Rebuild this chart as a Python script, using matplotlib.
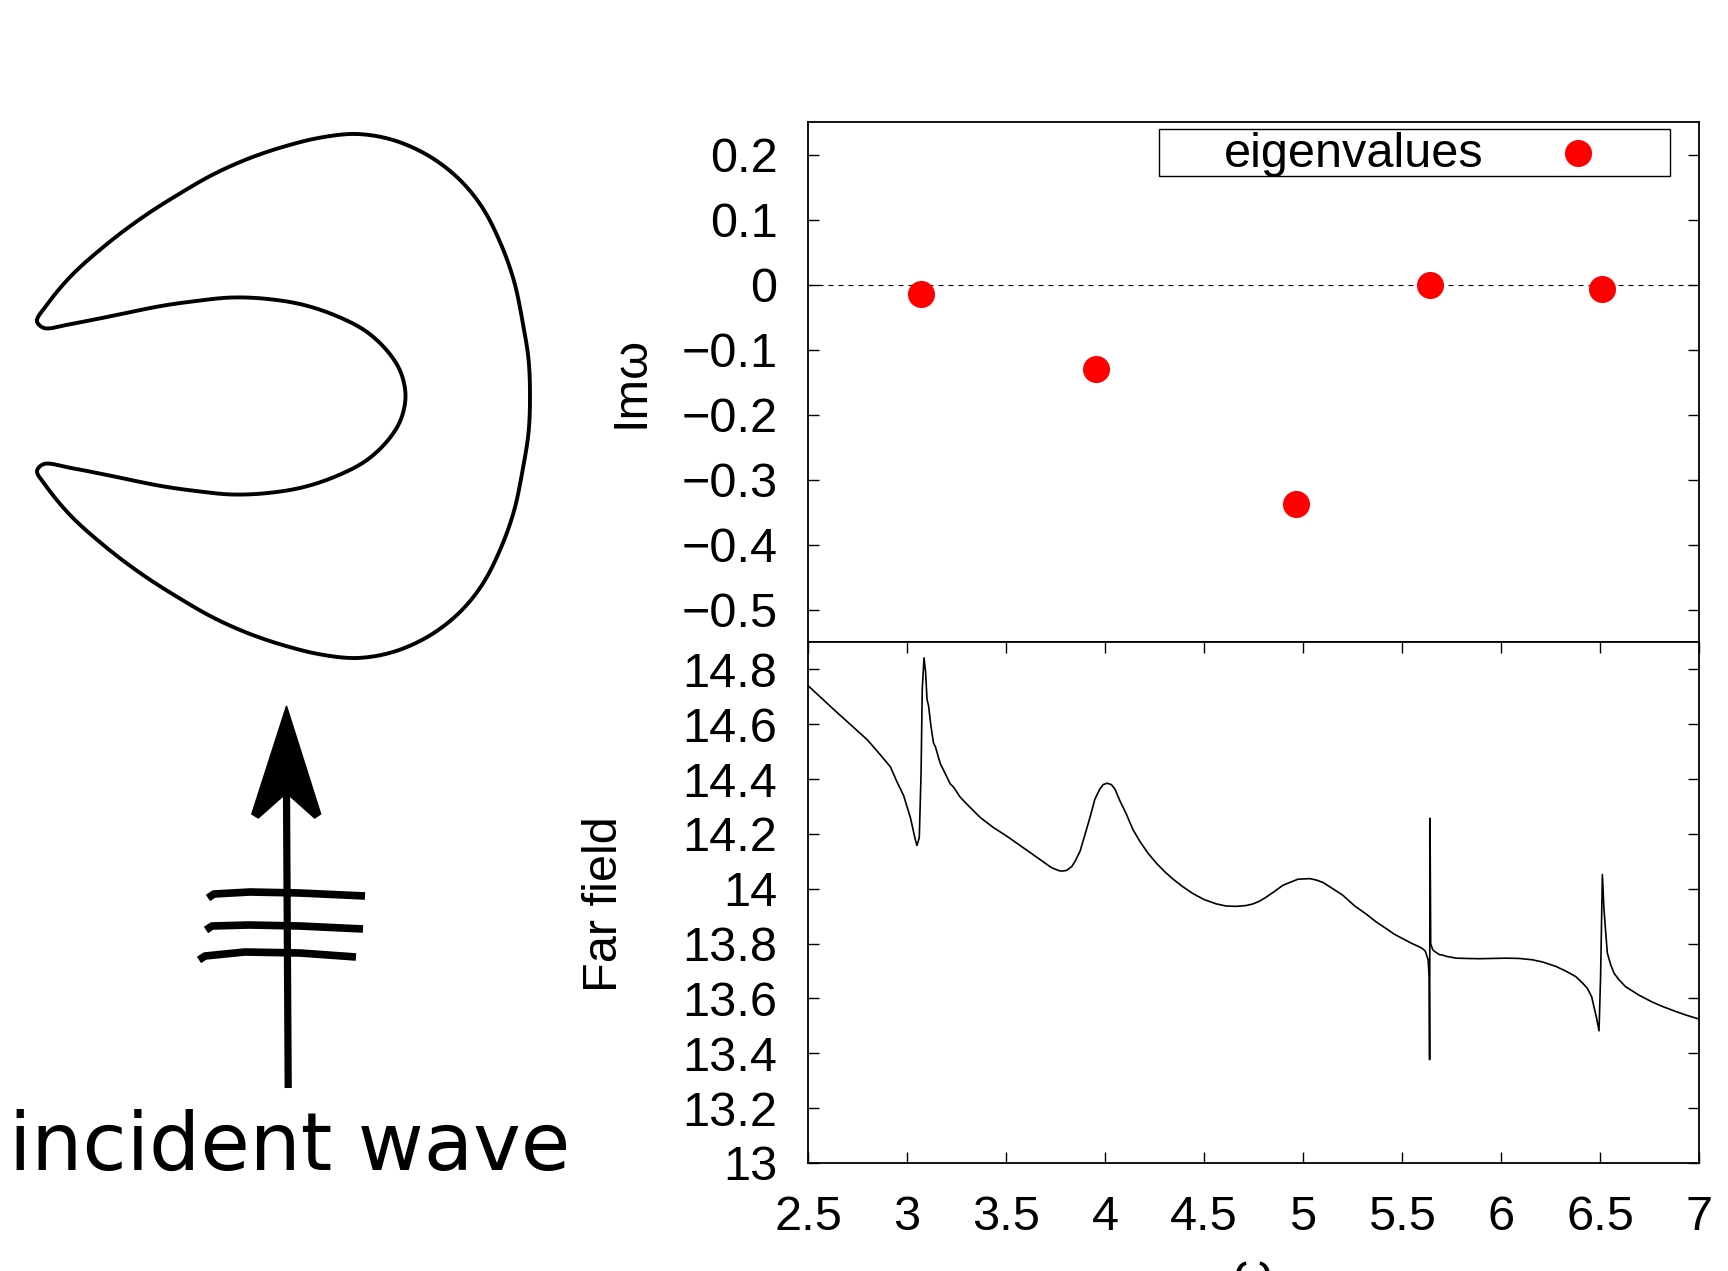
import numpy as np
import matplotlib
matplotlib.use("Agg")
import matplotlib.pyplot as plt
from matplotlib.patches import Polygon, Rectangle

plt.rcParams['font.family'] = ['Liberation Sans', 'DejaVu Sans']

# eigenvalues (Re w, Im w)
eig_re = [3.073, 3.957, 4.964, 5.643, 6.510]
eig_im = [-0.015, -0.130, -0.338, 0.000, -0.007]

# far field vs frequency
freq = [2.5, 2.63, 2.8, 2.866, 2.916, 2.95, 2.983, 3.017, 3.042, 3.05, 3.062, 3.071,
        3.077, 3.086, 3.094, 3.101, 3.109, 3.121, 3.134, 3.143, 3.168, 3.185, 3.218,
        3.235, 3.269, 3.302, 3.37, 3.437, 3.504, 3.571, 3.638, 3.722, 3.739, 3.773,
        3.79, 3.806, 3.832, 3.848, 3.874, 3.899, 3.924, 3.949, 3.974, 3.991, 4.011,
        4.032, 4.05, 4.074, 4.108, 4.141, 4.176, 4.217, 4.26, 4.302, 4.344, 4.394,
        4.445, 4.503, 4.562, 4.613, 4.663, 4.713, 4.748, 4.781, 4.815, 4.857, 4.899,
        4.933, 4.975, 5.0, 5.034, 5.067, 5.101, 5.151, 5.202, 5.26, 5.319, 5.37, 5.42,
        5.462, 5.504, 5.546, 5.588, 5.605, 5.618, 5.632, 5.637, 5.6395, 5.6415, 5.645,
        5.655, 5.664, 5.689, 5.706, 5.722, 5.773, 5.823, 5.89, 5.958, 6.025, 6.092,
        6.159, 6.21, 6.277, 6.327, 6.377, 6.411, 6.436, 6.458, 6.47, 6.482, 6.495,
        6.503, 6.512, 6.52, 6.529, 6.537, 6.554, 6.571, 6.596, 6.629, 6.697, 6.764,
        6.815, 6.881, 6.932, 7.0]
far = [14.741, 14.654, 14.543, 14.488, 14.445, 14.389, 14.340, 14.260, 14.179, 14.158,
       14.186, 14.42, 14.728, 14.842, 14.79, 14.691, 14.667, 14.593, 14.531, 14.519,
       14.457, 14.432, 14.383, 14.371, 14.334, 14.309, 14.26, 14.223, 14.192, 14.158,
       14.124, 14.081, 14.074, 14.065, 14.065, 14.067, 14.081, 14.099, 14.137, 14.198,
       14.26, 14.327, 14.364, 14.380, 14.385, 14.380, 14.364, 14.323, 14.272, 14.216,
       14.173, 14.130, 14.093, 14.062, 14.035, 14.007, 13.982, 13.960, 13.945, 13.937,
       13.936, 13.939, 13.945, 13.955, 13.970, 13.991, 14.013, 14.023, 14.035, 14.036,
       14.037, 14.032, 14.023, 14.0, 13.976, 13.938, 13.908, 13.879, 13.855, 13.834,
       13.818, 13.802, 13.788, 13.781, 13.772, 13.741, 13.68, 13.377, 14.257, 13.80,
       13.778, 13.772, 13.760, 13.758, 13.754, 13.747, 13.746, 13.745, 13.746, 13.747,
       13.746, 13.741, 13.733, 13.717, 13.70, 13.680, 13.657, 13.637, 13.606, 13.568,
       13.531, 13.482, 13.68, 14.052, 13.926, 13.840, 13.766, 13.723, 13.692, 13.668,
       13.643, 13.612, 13.587, 13.571, 13.553, 13.540, 13.525]

xticks = np.arange(2.5, 7.01, 0.5)
im_ticks = [0.2, 0.1, 0, -0.1, -0.2, -0.3, -0.4, -0.5]
ff_ticks = [13, 13.2, 13.4, 13.6, 13.8, 14, 14.2, 14.4, 14.6, 14.8]

# scatterer outline (upper half, pixel coords), mirrored about mid_y
outer_upper = [(37, 321), (46, 306), (71, 276), (107, 244), (143, 217), (179, 194),
               (214, 174), (250, 158), (286, 146), (321, 137.5), (357, 134), (393, 140),
               (429, 156), (459, 179), (482, 207), (500, 242), (514, 281), (523, 324),
               (528.6, 360), (530, 396)]
inner_upper = [(44, 328), (71, 324), (107, 317), (161, 306), (196, 301), (232, 297.5),
               (268, 299), (304, 305), (339, 317), (367, 332), (389, 353), (401, 373),
               (405.5, 396)]
mid_y = 396


def catmull_rom_closed(pts, n=30, alpha=0.5):
    P = np.array(pts, float)
    N = len(P)
    out = []
    for i in range(N):
        p0, p1, p2, p3 = P[(i - 1) % N], P[i], P[(i + 1) % N], P[(i + 2) % N]
        t0 = 0.0
        t1 = t0 + np.linalg.norm(p1 - p0) ** alpha
        t2 = t1 + np.linalg.norm(p2 - p1) ** alpha
        t3 = t2 + np.linalg.norm(p3 - p2) ** alpha
        t = np.linspace(t1, t2, n, endpoint=False)[:, None]
        a1 = (t1 - t) / (t1 - t0) * p0 + (t - t0) / (t1 - t0) * p1
        a2 = (t2 - t) / (t2 - t1) * p1 + (t - t1) / (t2 - t1) * p2
        a3 = (t3 - t) / (t3 - t2) * p2 + (t - t2) / (t3 - t2) * p3
        b1 = (t2 - t) / (t2 - t0) * a1 + (t - t0) / (t2 - t0) * a2
        b2 = (t3 - t) / (t3 - t1) * a2 + (t - t1) / (t3 - t1) * a3
        out.append((t2 - t) / (t2 - t1) * b1 + (t - t1) / (t2 - t1) * b2)
    out.append(out[0][:1])
    return np.vstack(out)


W, H = 1728, 1271
fig = plt.figure(figsize=(W / 100, H / 100), dpi=100)

# left: drawing in pixel coords
dr = fig.add_axes([0, 0, 1, 1])
dr.set_xlim(0, W)
dr.set_ylim(H, 0)
dr.axis('off')

outer_lower = [(x, 2 * mid_y - y) for x, y in outer_upper[-2::-1]]
inner_lower = [(x, 2 * mid_y - y) for x, y in inner_upper]
inner_back = inner_upper[-2::-1]
loop = outer_upper + outer_lower + inner_lower + inner_back
curve = catmull_rom_closed(loop)
dr.plot(curve[:, 0], curve[:, 1], color='black', lw=2.8)

# incident wave arrow
dr.plot([286.5, 288.2], [793, 1088], color='black', lw=5.2, solid_capstyle='butt')
dr.add_patch(Polygon([(286.5, 706), (320.7, 814), (314.6, 818), (286.5, 793),
                      (258.3, 818), (251.8, 814)], closed=True, color='black'))
waves = [[(208, 898), (214, 894), (250, 892), (300, 893), (365, 896)],
         [(206, 930), (212, 926), (249, 925), (300, 926), (363, 929)],
         [(199, 960), (205, 956), (245, 952), (300, 953), (356, 957)]]
for w in waves:
    w = np.array(w)
    dr.plot(w[:, 0], w[:, 1], color='black', lw=5.5, solid_capstyle='butt')
dr.text(290, 1170, 'incident wave', fontsize=58, family='DejaVu Sans',
        ha='center', va='baseline')

left, width = 808 / W, 891 / W
ax1 = fig.add_axes([left, 1 - 642 / H, width, 520 / H])
ax2 = fig.add_axes([left, 1 - 1163 / H, width, 521 / H])

fs = 35
for ax in (ax1, ax2):
    for s in ax.spines.values():
        s.set_linewidth(1.3)
    ax.set_xlim(2.5, 7)
    ax.set_xticks(xticks)

# top panel
ax1.axhline(0, color='black', lw=0.8, ls=(0, (4.5, 4.5)))
ax1.plot(eig_re, eig_im, 'o', color='#ff0000', ms=19.5, mec='none', zorder=3)
ax1.set_ylim(-0.55, 0.25)
ax1.set_yticks(im_ticks)
ax1.set_yticklabels(['0.2', '0.1', '0', '\u22120.1', '\u22120.2', '\u22120.3',
                     '\u22120.4', '\u22120.5'])
ax1.tick_params(axis='y', direction='in', length=8, width=1, left=True, right=True,
                labelsize=fs, pad=22)
ax1.tick_params(axis='x', bottom=False, top=False, labelbottom=False)
ax1.set_ylabel('Im\u03c9', fontsize=fs)
ax1.yaxis.set_label_coords(-0.173, 0.5)

# legend box
ax1.add_patch(Rectangle((0.394, 0.896), 0.573, 0.0905, transform=ax1.transAxes,
                        fill=False, edgecolor='black', lw=1.0))
ax1.text(0.612, 0.938, 'eigenvalues', transform=ax1.transAxes, fontsize=fs,
         ha='center', va='center')
ax1.plot([0.864], [0.940], 'o', color='#ff0000', ms=19.5, mec='none',
         transform=ax1.transAxes, clip_on=False)

# bottom panel
ax2.plot(freq, far, color='black', lw=1.2)
ax2.set_ylim(13, 14.9)
ax2.set_yticks(ff_ticks)
ax2.set_yticklabels(['13', '13.2', '13.4', '13.6', '13.8', '14', '14.2', '14.4',
                     '14.6', '14.8'])
ax2.set_xticklabels(['2.5', '3', '3.5', '4', '4.5', '5', '5.5', '6', '6.5', '7'])
ax2.tick_params(axis='y', direction='in', length=8, width=1, left=True, right=True,
                labelsize=fs, pad=22)
ax2.tick_params(axis='x', direction='in', length=8, width=1, bottom=True, top=True,
                labelsize=fs, pad=23)
ax2.set_ylabel('Far field', fontsize=fs)
ax2.yaxis.set_label_coords(-0.203, 0.496)
ax2.set_xlabel('\u03c9', fontsize=fs)
ax2.xaxis.set_label_coords(0.5, -0.172)

fig.savefig('out.png', dpi=100)
